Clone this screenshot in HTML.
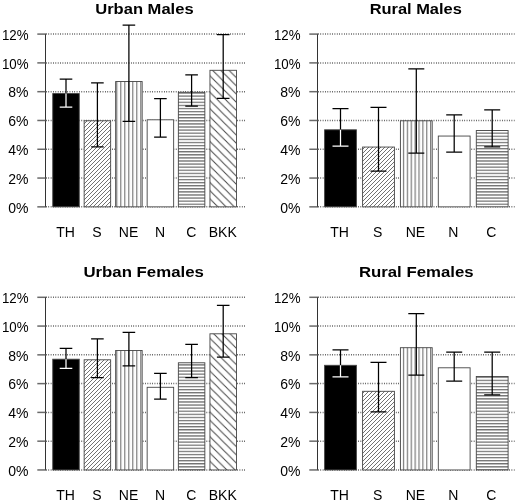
<!DOCTYPE html>
<html><head><meta charset="utf-8"><title>Charts</title>
<style>
html,body{margin:0;padding:0;background:#fff;}
svg{display:block}
text{font-family:"Liberation Sans", sans-serif;fill:#000}
.yl{font-size:14px;text-anchor:end}
.xl{font-size:14px;text-anchor:middle}
.ti{font-size:15.5px;font-weight:bold;text-anchor:start;fill:#000}
.g{stroke:#3a3a3a;stroke-width:1.5;stroke-dasharray:0.75 1.61}
.a{stroke:#333;stroke-width:1}
.t{stroke:#6a6a6a;stroke-width:1.5}
.b{stroke:#444;stroke-width:0.9}
.e{fill:none;stroke-width:1.25}
</style></head><body>
<svg width="520" height="504" viewBox="0 0 520 504">
<defs>
<pattern id="pS" width="4" height="4" patternUnits="userSpaceOnUse"><path d="M-1 5L5 -1M-1 1L1 -1M3 5L5 3" stroke="#6a6a6a" stroke-width="0.95"/></pattern>
<pattern id="pNE" width="4" height="600" patternUnits="userSpaceOnUse" x="0.2"><path d="M0.6 0V600" stroke="#7a7a7a" stroke-width="1.2"/></pattern>
<pattern id="pNE2" width="3.88" height="600" patternUnits="userSpaceOnUse" x="3.26"><path d="M0.6 0V600" stroke="#7a7a7a" stroke-width="1.2"/></pattern>
<pattern id="pC" width="600" height="3.0894" patternUnits="userSpaceOnUse" y="2.79"><path d="M0 0.6H600" stroke="#444" stroke-width="0.95"/></pattern>
<pattern id="pB" width="8.2" height="8.2" patternUnits="userSpaceOnUse" y="5.3"><path d="M-1 -1L9.2 9.2M-1 7.2L1 9.2M7.2 -1L9.2 1" stroke="#444" stroke-width="1"/></pattern>
</defs>
<rect width="520" height="504" fill="#fff"/>
<line x1="46.00" y1="34.10" x2="245.00" y2="34.10" class="g"/>
<line x1="46.00" y1="62.89" x2="245.00" y2="62.89" class="g"/>
<line x1="46.00" y1="91.68" x2="245.00" y2="91.68" class="g"/>
<line x1="46.00" y1="120.47" x2="245.00" y2="120.47" class="g"/>
<line x1="46.00" y1="149.27" x2="245.00" y2="149.27" class="g"/>
<line x1="46.00" y1="178.06" x2="245.00" y2="178.06" class="g"/>
<line x1="46.00" y1="206.85" x2="245.00" y2="206.85" class="g"/>
<rect x="52.75" y="93.55" width="26.50" height="113.30" fill="#fff"/>
<rect x="52.75" y="93.55" width="26.50" height="113.30" fill="#000" class="b"/>
<rect x="84.15" y="120.80" width="26.50" height="86.05" fill="#fff"/>
<rect x="84.15" y="120.80" width="26.50" height="86.05" fill="url(#pS)" class="b"/>
<rect x="115.65" y="81.55" width="26.50" height="125.30" fill="#fff"/>
<rect x="115.65" y="81.55" width="26.50" height="125.30" fill="url(#pNE)" class="b"/>
<rect x="147.15" y="119.80" width="26.50" height="87.05" fill="#fff"/>
<rect x="147.15" y="119.80" width="26.50" height="87.05" fill="#fff" class="b"/>
<rect x="178.35" y="92.30" width="26.50" height="114.55" fill="#fff"/>
<rect x="178.35" y="92.30" width="26.50" height="114.55" fill="url(#pC)" class="b"/>
<rect x="209.95" y="70.30" width="26.50" height="136.55" fill="#fff"/>
<rect x="209.95" y="70.30" width="26.50" height="136.55" fill="url(#pB)" class="b"/>
<line x1="45.50" y1="33.60" x2="45.50" y2="207.35" class="a"/>
<line x1="37.30" y1="34.10" x2="45.50" y2="34.10" class="t"/>
<text x="28.50" y="39.80" class="yl" textLength="26.6" lengthAdjust="spacingAndGlyphs">12%</text>
<line x1="37.30" y1="62.89" x2="45.50" y2="62.89" class="t"/>
<text x="28.50" y="68.59" class="yl" textLength="26.6" lengthAdjust="spacingAndGlyphs">10%</text>
<line x1="37.30" y1="91.68" x2="45.50" y2="91.68" class="t"/>
<text x="28.50" y="97.38" class="yl">8%</text>
<line x1="37.30" y1="120.47" x2="45.50" y2="120.47" class="t"/>
<text x="28.50" y="126.17" class="yl">6%</text>
<line x1="37.30" y1="149.27" x2="45.50" y2="149.27" class="t"/>
<text x="28.50" y="154.97" class="yl">4%</text>
<line x1="37.30" y1="178.06" x2="45.50" y2="178.06" class="t"/>
<text x="28.50" y="183.76" class="yl">2%</text>
<line x1="37.30" y1="206.85" x2="45.50" y2="206.85" class="t"/>
<text x="28.50" y="212.55" class="yl">0%</text>
<path d="M59.70 79.05H72.30M66.00 79.05V93.55" class="e" stroke="#000"/>
<path d="M66.00 93.55V107.05M59.70 107.05H72.30" class="e" stroke="#fff"/>
<path d="M91.10 82.80H103.70M97.40 82.80V146.80M91.10 146.80H103.70" class="e" stroke="#000"/>
<path d="M122.60 25.05H135.20M128.90 25.05V121.30M122.60 121.30H135.20" class="e" stroke="#000"/>
<path d="M154.10 98.55H166.70M160.40 98.55V137.05M154.10 137.05H166.70" class="e" stroke="#000"/>
<path d="M185.30 74.80H197.90M191.60 74.80V106.05M185.30 106.05H197.90" class="e" stroke="#000"/>
<path d="M216.90 34.55H229.50M223.20 34.55V98.30M216.90 98.30H229.50" class="e" stroke="#000"/>
<text x="65.60" y="237.30" class="xl">TH</text>
<text x="97.00" y="237.30" class="xl">S</text>
<text x="128.50" y="237.30" class="xl">NE</text>
<text x="160.00" y="237.30" class="xl">N</text>
<text x="191.20" y="237.30" class="xl">C</text>
<text x="222.80" y="237.30" class="xl">BKK</text>
<text x="95.20" y="14.40" class="ti" textLength="98.40" lengthAdjust="spacingAndGlyphs">Urban Males</text>
<line x1="318.00" y1="34.10" x2="514.50" y2="34.10" class="g"/>
<line x1="318.00" y1="62.89" x2="514.50" y2="62.89" class="g"/>
<line x1="318.00" y1="91.68" x2="514.50" y2="91.68" class="g"/>
<line x1="318.00" y1="120.47" x2="514.50" y2="120.47" class="g"/>
<line x1="318.00" y1="149.27" x2="514.50" y2="149.27" class="g"/>
<line x1="318.00" y1="178.06" x2="514.50" y2="178.06" class="g"/>
<line x1="318.00" y1="206.85" x2="514.50" y2="206.85" class="g"/>
<rect x="324.60" y="129.80" width="31.80" height="77.05" fill="#fff"/>
<rect x="324.60" y="129.80" width="31.80" height="77.05" fill="#000" class="b"/>
<rect x="362.60" y="147.05" width="31.80" height="59.80" fill="#fff"/>
<rect x="362.60" y="147.05" width="31.80" height="59.80" fill="url(#pS)" class="b"/>
<rect x="400.40" y="120.80" width="31.80" height="86.05" fill="#fff"/>
<rect x="400.40" y="120.80" width="31.80" height="86.05" fill="url(#pNE2)" class="b"/>
<rect x="438.30" y="136.05" width="31.80" height="70.80" fill="#fff"/>
<rect x="438.30" y="136.05" width="31.80" height="70.80" fill="#fff" class="b"/>
<rect x="476.30" y="130.55" width="31.80" height="76.30" fill="#fff"/>
<rect x="476.30" y="130.55" width="31.80" height="76.30" fill="url(#pC)" class="b"/>
<line x1="317.50" y1="33.60" x2="317.50" y2="207.35" class="a"/>
<line x1="309.30" y1="34.10" x2="317.50" y2="34.10" class="t"/>
<text x="300.50" y="39.80" class="yl" textLength="26.6" lengthAdjust="spacingAndGlyphs">12%</text>
<line x1="309.30" y1="62.89" x2="317.50" y2="62.89" class="t"/>
<text x="300.50" y="68.59" class="yl" textLength="26.6" lengthAdjust="spacingAndGlyphs">10%</text>
<line x1="309.30" y1="91.68" x2="317.50" y2="91.68" class="t"/>
<text x="300.50" y="97.38" class="yl">8%</text>
<line x1="309.30" y1="120.47" x2="317.50" y2="120.47" class="t"/>
<text x="300.50" y="126.17" class="yl">6%</text>
<line x1="309.30" y1="149.27" x2="317.50" y2="149.27" class="t"/>
<text x="300.50" y="154.97" class="yl">4%</text>
<line x1="309.30" y1="178.06" x2="317.50" y2="178.06" class="t"/>
<text x="300.50" y="183.76" class="yl">2%</text>
<line x1="309.30" y1="206.85" x2="317.50" y2="206.85" class="t"/>
<text x="300.50" y="212.55" class="yl">0%</text>
<path d="M332.50 108.55H348.50M340.50 108.55V129.80" class="e" stroke="#000"/>
<path d="M340.50 129.80V146.05M332.50 146.05H348.50" class="e" stroke="#fff"/>
<path d="M370.50 107.30H386.50M378.50 107.30V171.05M370.50 171.05H386.50" class="e" stroke="#000"/>
<path d="M408.30 68.80H424.30M416.30 68.80V153.05M408.30 153.05H424.30" class="e" stroke="#000"/>
<path d="M446.20 114.80H462.20M454.20 114.80V152.05M446.20 152.05H462.20" class="e" stroke="#000"/>
<path d="M484.20 109.80H500.20M492.20 109.80V146.80M484.20 146.80H500.20" class="e" stroke="#000"/>
<text x="339.60" y="237.30" class="xl">TH</text>
<text x="377.60" y="237.30" class="xl">S</text>
<text x="415.40" y="237.30" class="xl">NE</text>
<text x="453.30" y="237.30" class="xl">N</text>
<text x="491.30" y="237.30" class="xl">C</text>
<text x="369.65" y="14.40" class="ti" textLength="92.20" lengthAdjust="spacingAndGlyphs">Rural Males</text>
<line x1="46.00" y1="297.30" x2="245.00" y2="297.30" class="g"/>
<line x1="46.00" y1="326.07" x2="245.00" y2="326.07" class="g"/>
<line x1="46.00" y1="354.85" x2="245.00" y2="354.85" class="g"/>
<line x1="46.00" y1="383.62" x2="245.00" y2="383.62" class="g"/>
<line x1="46.00" y1="412.40" x2="245.00" y2="412.40" class="g"/>
<line x1="46.00" y1="441.17" x2="245.00" y2="441.17" class="g"/>
<line x1="46.00" y1="469.95" x2="245.00" y2="469.95" class="g"/>
<rect x="52.75" y="359.20" width="26.50" height="110.75" fill="#fff"/>
<rect x="52.75" y="359.20" width="26.50" height="110.75" fill="#000" class="b"/>
<rect x="84.15" y="359.80" width="26.50" height="110.15" fill="#fff"/>
<rect x="84.15" y="359.80" width="26.50" height="110.15" fill="url(#pS)" class="b"/>
<rect x="115.65" y="350.55" width="26.50" height="119.40" fill="#fff"/>
<rect x="115.65" y="350.55" width="26.50" height="119.40" fill="url(#pNE)" class="b"/>
<rect x="147.15" y="387.30" width="26.50" height="82.65" fill="#fff"/>
<rect x="147.15" y="387.30" width="26.50" height="82.65" fill="#fff" class="b"/>
<rect x="178.35" y="362.80" width="26.50" height="107.15" fill="#fff"/>
<rect x="178.35" y="362.80" width="26.50" height="107.15" fill="url(#pC)" class="b"/>
<rect x="209.95" y="333.80" width="26.50" height="136.15" fill="#fff"/>
<rect x="209.95" y="333.80" width="26.50" height="136.15" fill="url(#pB)" class="b"/>
<line x1="45.50" y1="296.80" x2="45.50" y2="470.45" class="a"/>
<line x1="37.30" y1="297.30" x2="45.50" y2="297.30" class="t"/>
<text x="28.50" y="303.00" class="yl" textLength="26.6" lengthAdjust="spacingAndGlyphs">12%</text>
<line x1="37.30" y1="326.07" x2="45.50" y2="326.07" class="t"/>
<text x="28.50" y="331.77" class="yl" textLength="26.6" lengthAdjust="spacingAndGlyphs">10%</text>
<line x1="37.30" y1="354.85" x2="45.50" y2="354.85" class="t"/>
<text x="28.50" y="360.55" class="yl">8%</text>
<line x1="37.30" y1="383.62" x2="45.50" y2="383.62" class="t"/>
<text x="28.50" y="389.32" class="yl">6%</text>
<line x1="37.30" y1="412.40" x2="45.50" y2="412.40" class="t"/>
<text x="28.50" y="418.10" class="yl">4%</text>
<line x1="37.30" y1="441.17" x2="45.50" y2="441.17" class="t"/>
<text x="28.50" y="446.87" class="yl">2%</text>
<line x1="37.30" y1="469.95" x2="45.50" y2="469.95" class="t"/>
<text x="28.50" y="475.65" class="yl">0%</text>
<path d="M59.70 348.30H72.30M66.00 348.30V359.20" class="e" stroke="#000"/>
<path d="M66.00 359.20V368.30M59.70 368.30H72.30" class="e" stroke="#fff"/>
<path d="M91.10 338.90H103.70M97.40 338.90V377.55M91.10 377.55H103.70" class="e" stroke="#000"/>
<path d="M122.60 332.30H135.20M128.90 332.30V365.90M122.60 365.90H135.20" class="e" stroke="#000"/>
<path d="M154.10 373.30H166.70M160.40 373.30V399.20M154.10 399.20H166.70" class="e" stroke="#000"/>
<path d="M185.30 344.30H197.90M191.60 344.30V377.55M185.30 377.55H197.90" class="e" stroke="#000"/>
<path d="M216.90 305.30H229.50M223.20 305.30V357.05M216.90 357.05H229.50" class="e" stroke="#000"/>
<text x="65.60" y="500.10" class="xl">TH</text>
<text x="97.00" y="500.10" class="xl">S</text>
<text x="128.50" y="500.10" class="xl">NE</text>
<text x="160.00" y="500.10" class="xl">N</text>
<text x="191.20" y="500.10" class="xl">C</text>
<text x="222.80" y="500.10" class="xl">BKK</text>
<text x="83.40" y="277.30" class="ti" textLength="120.45" lengthAdjust="spacingAndGlyphs">Urban Females</text>
<line x1="318.00" y1="297.30" x2="514.50" y2="297.30" class="g"/>
<line x1="318.00" y1="326.07" x2="514.50" y2="326.07" class="g"/>
<line x1="318.00" y1="354.85" x2="514.50" y2="354.85" class="g"/>
<line x1="318.00" y1="383.62" x2="514.50" y2="383.62" class="g"/>
<line x1="318.00" y1="412.40" x2="514.50" y2="412.40" class="g"/>
<line x1="318.00" y1="441.17" x2="514.50" y2="441.17" class="g"/>
<line x1="318.00" y1="469.95" x2="514.50" y2="469.95" class="g"/>
<rect x="324.60" y="365.30" width="31.80" height="104.65" fill="#fff"/>
<rect x="324.60" y="365.30" width="31.80" height="104.65" fill="#000" class="b"/>
<rect x="362.60" y="391.30" width="31.80" height="78.65" fill="#fff"/>
<rect x="362.60" y="391.30" width="31.80" height="78.65" fill="url(#pS)" class="b"/>
<rect x="400.40" y="347.70" width="31.80" height="122.25" fill="#fff"/>
<rect x="400.40" y="347.70" width="31.80" height="122.25" fill="url(#pNE2)" class="b"/>
<rect x="438.30" y="367.80" width="31.80" height="102.15" fill="#fff"/>
<rect x="438.30" y="367.80" width="31.80" height="102.15" fill="#fff" class="b"/>
<rect x="476.30" y="376.55" width="31.80" height="93.40" fill="#fff"/>
<rect x="476.30" y="376.55" width="31.80" height="93.40" fill="url(#pC)" class="b"/>
<line x1="317.50" y1="296.80" x2="317.50" y2="470.45" class="a"/>
<line x1="309.30" y1="297.30" x2="317.50" y2="297.30" class="t"/>
<text x="300.50" y="303.00" class="yl" textLength="26.6" lengthAdjust="spacingAndGlyphs">12%</text>
<line x1="309.30" y1="326.07" x2="317.50" y2="326.07" class="t"/>
<text x="300.50" y="331.77" class="yl" textLength="26.6" lengthAdjust="spacingAndGlyphs">10%</text>
<line x1="309.30" y1="354.85" x2="317.50" y2="354.85" class="t"/>
<text x="300.50" y="360.55" class="yl">8%</text>
<line x1="309.30" y1="383.62" x2="317.50" y2="383.62" class="t"/>
<text x="300.50" y="389.32" class="yl">6%</text>
<line x1="309.30" y1="412.40" x2="317.50" y2="412.40" class="t"/>
<text x="300.50" y="418.10" class="yl">4%</text>
<line x1="309.30" y1="441.17" x2="317.50" y2="441.17" class="t"/>
<text x="300.50" y="446.87" class="yl">2%</text>
<line x1="309.30" y1="469.95" x2="317.50" y2="469.95" class="t"/>
<text x="300.50" y="475.65" class="yl">0%</text>
<path d="M332.50 349.80H348.50M340.50 349.80V365.30" class="e" stroke="#000"/>
<path d="M340.50 365.30V376.80M332.50 376.80H348.50" class="e" stroke="#fff"/>
<path d="M370.50 362.30H386.50M378.50 362.30V411.80M370.50 411.80H386.50" class="e" stroke="#000"/>
<path d="M408.30 313.55H424.30M416.30 313.55V375.05M408.30 375.05H424.30" class="e" stroke="#000"/>
<path d="M446.20 352.05H462.20M454.20 352.05V381.05M446.20 381.05H462.20" class="e" stroke="#000"/>
<path d="M484.20 352.05H500.20M492.20 352.05V394.80M484.20 394.80H500.20" class="e" stroke="#000"/>
<text x="339.60" y="500.10" class="xl">TH</text>
<text x="377.60" y="500.10" class="xl">S</text>
<text x="415.40" y="500.10" class="xl">NE</text>
<text x="453.30" y="500.10" class="xl">N</text>
<text x="491.30" y="500.10" class="xl">C</text>
<text x="358.90" y="277.30" class="ti" textLength="114.70" lengthAdjust="spacingAndGlyphs">Rural Females</text>
</svg>
</body></html>
